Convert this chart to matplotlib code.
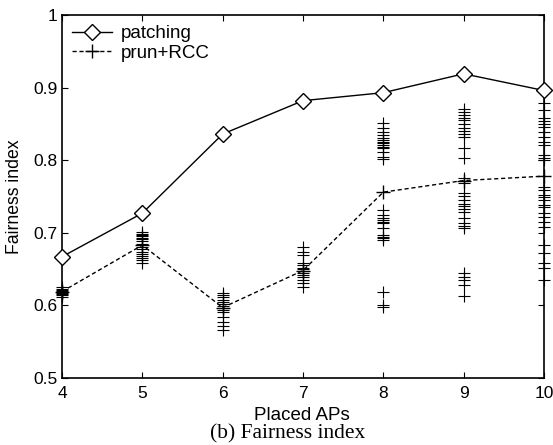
import matplotlib
matplotlib.use("Agg")
import matplotlib.pyplot as plt

# Dados
placed_aps = [4, 5, 6, 7, 8, 9, 10]
patching = [0.667, 0.727, 0.836, 0.882, 0.893, 0.919, 0.896]
prun_rcc = [0.619, 0.683, 0.597, 0.648, 0.756, 0.772, 0.778]

# execuções individuais do prun+RCC (cruzes espalhadas)
runs_4 = [0.612, 0.614, 0.615, 0.617, 0.618, 0.619, 0.620, 0.621, 0.623, 0.625]
runs_5 = [0.701, 0.699, 0.697, 0.695, 0.693, 0.691, 0.689, 0.685, 0.680,
          0.677, 0.674, 0.671, 0.668, 0.665, 0.662, 0.658]
runs_6 = [0.617, 0.614, 0.611, 0.608, 0.605, 0.602, 0.599, 0.596, 0.593,
          0.591, 0.584, 0.577, 0.572, 0.566]
runs_7 = [0.680, 0.674, 0.669, 0.658, 0.655, 0.652, 0.650, 0.647, 0.645,
          0.642, 0.639, 0.635, 0.631, 0.625]
runs_8 = [0.851, 0.844, 0.839, 0.835, 0.831, 0.828, 0.825, 0.824, 0.821,
          0.818, 0.817, 0.811, 0.804, 0.802,
          0.731, 0.725, 0.720, 0.718, 0.715, 0.713, 0.707, 0.697, 0.694,
          0.693, 0.690, 0.618, 0.600, 0.598]
runs_9 = [0.871, 0.866, 0.862, 0.858, 0.855, 0.850, 0.845, 0.840, 0.836,
          0.832, 0.817, 0.803,
          0.775, 0.768, 0.755, 0.750, 0.745, 0.740, 0.737, 0.733, 0.728,
          0.720, 0.714, 0.710, 0.706,
          0.645, 0.639, 0.635, 0.628, 0.613]
runs_10 = [0.879, 0.869, 0.858, 0.854, 0.850, 0.846, 0.839, 0.832, 0.825,
           0.821, 0.807, 0.803, 0.800, 0.763, 0.759, 0.752, 0.749, 0.745,
           0.738, 0.736, 0.727, 0.722, 0.715, 0.708, 0.683, 0.672, 0.658,
           0.652, 0.635]
runs = [runs_4, runs_5, runs_6, runs_7, runs_8, runs_9, runs_10]

plt.rcParams['font.family'] = ['Liberation Sans', 'DejaVu Sans']

fig = plt.figure(figsize=(5.53, 4.45), dpi=100)
ax = fig.add_axes([0.1121, 0.1506, 0.8716, 0.8157])

for x, vals in zip(placed_aps, runs):
    ax.plot([x] * len(vals), vals, linestyle='none', marker='+',
            markersize=9, markeredgewidth=0.8, color='black', clip_on=False)

ax.plot(placed_aps, patching, '-', color='black', linewidth=1.0,
        marker='D', markersize=8.5, markerfacecolor='white',
        markeredgewidth=1.0, clip_on=False, label='patching', zorder=5)
ax.plot(placed_aps, prun_rcc, '--', color='black', linewidth=1.0,
        dashes=(3, 2), marker='+', markersize=10, markeredgewidth=1.0,
        clip_on=False, label='prun+RCC', zorder=5)

ax.set_xlim(4, 10)
ax.set_ylim(0.5, 1.0)
ax.set_xticks(placed_aps)
ax.set_yticks([0.5, 0.6, 0.7, 0.8, 0.9, 1.0])
ax.set_yticklabels(['0.5', '0.6', '0.7', '0.8', '0.9', '1'])
ax.tick_params(direction='in', top=True, right=True, length=4,
               labelsize=12.5)
ax.tick_params(axis='x', pad=6)
ax.tick_params(axis='y', pad=3)
for s in ax.spines.values():
    s.set_linewidth(1.2)

ax.set_xlabel("Placed APs", fontsize=13.5)
ax.set_ylabel("Fairness index", fontsize=12.7)
ax.xaxis.set_label_coords(0.497, -0.080)
ax.yaxis.set_label_coords(-0.081, 0.5)

ax.legend(loc='upper left', frameon=False, fontsize=13.5, handlelength=2.1,
          handletextpad=0.5, labelspacing=0.12, borderaxespad=0.25,
          borderpad=0.3)

fig.text(0.52, 0.0157, "(b) Fairness index", ha='center', va='baseline',
         fontsize=15.5, family=['Liberation Serif', 'DejaVu Serif'])

fig.savefig("out.png", dpi=100)
